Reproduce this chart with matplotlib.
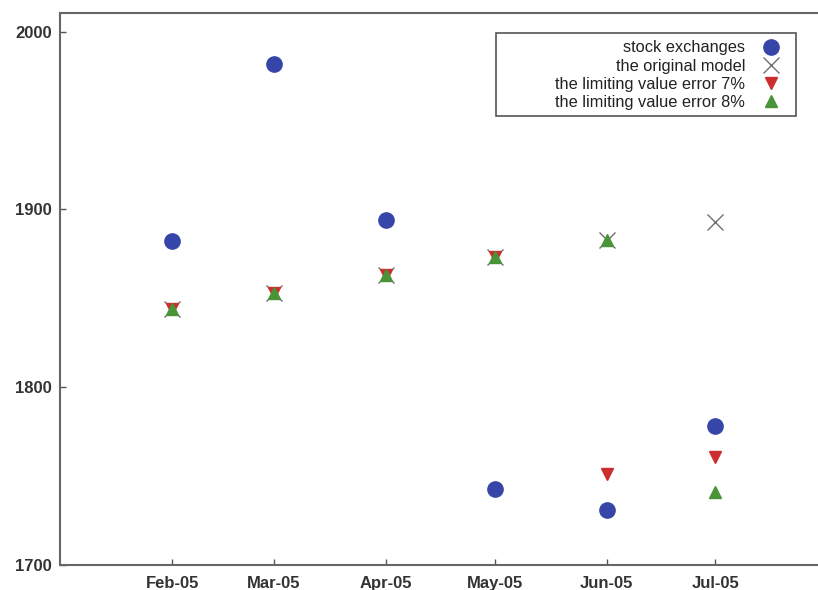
import numpy as np
import pandas as pd
import matplotlib
matplotlib.use("Agg")
import matplotlib.pyplot as plt
import matplotlib.dates as mdates
from matplotlib.patches import Rectangle

months = pd.to_datetime(["2005-02-01", "2005-03-01", "2005-04-01",
                         "2005-05-01", "2005-06-01", "2005-07-01"])
stock = [1882, 1982, 1894, 1743, 1731, 1778]
model = [1844, 1853, 1863, 1873, 1883, 1893]
err7 = [1844, 1853, 1863, 1873, 1751, 1761]
err8 = [1844, 1853, 1863, 1873, 1883, 1741]

plt.rcParams['font.family'] = ['Liberation Sans', 'DejaVu Sans']

fig = plt.figure(figsize=(8.18, 5.90), dpi=100)
# frame runs past the right edge of the picture, like the original
ax = fig.add_axes([60/818, 25/590, 775/818, 552/590])

ax.plot(months, stock, 'o', color='#3546a8', markersize=11, label='stock exchanges', zorder=4)
ax.plot(months, model, 'x', color='#707070', markersize=11, markeredgewidth=1.0,
        label='the original model', zorder=2)
ax.plot(months, err7, 'v', color='#cc2e2e', markersize=9, label='the limiting value error 7%', zorder=3)
ax.plot(months, err8, '^', color='#4a9438', markersize=9, label='the limiting value error 8%', zorder=3.5)

ax.set_xlim(pd.Timestamp("2005-01-01"), pd.Timestamp("2005-08-03"))
ax.set_ylim(1700, 2010.5)
ax.set_yticks([1700, 1800, 1900, 2000])
ax.set_xticks(months)
ax.xaxis.set_major_formatter(mdates.DateFormatter("%b-%y"))

ax.tick_params(direction='in', length=4, width=1, colors='#555555', labelcolor='#333333',
               labelsize=12, top=False, right=False)
ax.tick_params(axis='x', pad=8)
ax.tick_params(axis='y', pad=6)
for lab in ax.get_xticklabels() + ax.get_yticklabels():
    lab.set_fontweight('bold')

for sp in ax.spines.values():
    sp.set_color('#666666')
    sp.set_linewidth(1.5)

# gnuplot-style key: box drawn separately, wider than the text
ax.add_patch(Rectangle((0.5626, 0.8134), 0.387, 0.1504, transform=ax.transAxes,
                       fill=True, facecolor='white', edgecolor='#555555',
                       linewidth=1.2, zorder=5))
leg = ax.legend(loc='upper right', bbox_to_anchor=(0.939, 0.9625), markerfirst=False,
                fontsize=11.8, labelspacing=0.2, handletextpad=1.0, borderpad=0.4,
                handlelength=1.2, frameon=False, borderaxespad=0)
leg.set_zorder(6)
for t in leg.get_texts():
    t.set_ha('right')
    t.set_color('#222222')
# right-align labels inside the legend box
leg._legend_box.align = "right"
vp = leg._legend_box.get_children()[1]
for col in vp.get_children():
    col.align = "right"

fig.savefig("out.png", dpi=100)
